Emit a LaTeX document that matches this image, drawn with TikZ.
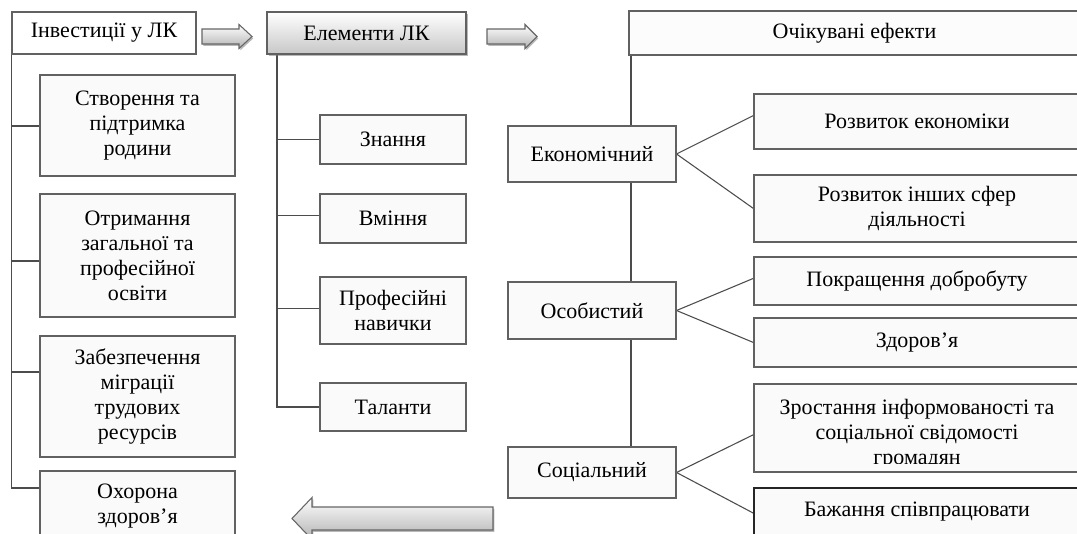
\documentclass[tikz,border=0pt]{standalone}
\usepackage{fontspec}
\setmainfont{Liberation Serif}
\usetikzlibrary{shadows,backgrounds}
\newcommand{\boxat}[7]{\node[#1, minimum width={(#5-#3)*0.75pt}, minimum height={(#6-#4)*0.75pt}] (#2) at ({(#3+#5)/2},{(#4+#6)/2}) {#7};}
\begin{document}
\begin{tikzpicture}[x=0.75pt,y=-0.75pt,
  txt/.style={font=\fontsize{16.5}{18.75}\selectfont, align=center, inner sep=0pt},
  box/.style={txt, draw=black!62, fill=black!2, line width=0.8pt},
  wbox/.style={box, fill=white},
  gbox/.style={box, top color=white, bottom color=black!22,
     drop shadow={shadow xshift=1.2pt, shadow yshift=-1.6pt, opacity=.5, fill=black!55}},
  blockarrow/.style={draw=black!60, line width=0.8pt, top color=white, bottom color=black!30,
     drop shadow={shadow xshift=1pt, shadow yshift=-1.4pt, opacity=.5, fill=black!55}},
  conn/.style={draw=black!70, line width=0.8pt}
]
\begin{scope}[on background layer]
  \fill[white] (0,0) rectangle (1077,533);
\end{scope}
\useasboundingbox (0,0) rectangle (1077,533);

% top row
\boxat{wbox}{inv}{12}{12}{196}{54}{Інвестиції у ЛК}
\boxat{gbox}{el}{267}{12}{466}{54}{Елементи ЛК}
\boxat{box, fill=black!1}{ef}{629}{11}{1080}{55}{Очікувані ефекти}

% block arrows
\path[blockarrow] (202,29) -- (239,29) -- (239,24.5) -- (252,36.5) -- (239,48.5) -- (239,44) -- (202,44) -- cycle;
\path[blockarrow] (487,29) -- (525,29) -- (525,24.5) -- (537,36.5) -- (525,48.5) -- (525,44) -- (487,44) -- cycle;
\path[blockarrow] (493,507) -- (312,507) -- (312,497.5) -- (292,518.5) -- (312,539.5) -- (312,530) -- (493,530) -- cycle;

% left column
\boxat{box}{sp}{40}{75}{235}{176}{Створення та\\підтримка\\родини}
\boxat{box}{ot}{40}{194}{235}{317}{Отримання\\загальної та\\професійної\\освіти}
\boxat{box}{zb}{40}{336}{235}{457}{Забезпечення\\міграції\\трудових\\ресурсів}
\boxat{box}{oh}{40}{471}{235}{545}{}
\node[txt] (oh-t) at (137.5,506) {Охорона\\здоров’я};
\coordinate (b-sp) at (40,126);
\coordinate (b-ot) at (40,261);
\coordinate (b-zb) at (40,372);
\coordinate (b-oh) at (40,488);

% middle column
\boxat{box}{zn}{320}{115}{466}{164}{Знання}
\boxat{box}{vm}{320}{194}{466}{243}{Вміння}
\boxat{box}{pr}{320}{277}{466}{344}{Професійні\\навички}
\boxat{box}{tl}{320}{383}{466}{431}{Таланти}
\coordinate (mtop) at (277,54);

% right column
\boxat{box}{ek}{508}{126}{676}{182}{Економічний}
\boxat{box}{os}{508}{282}{676}{339}{Особистий}
\boxat{box}{so}{508}{447}{676}{498}{Соціальний}
\coordinate (rtop) at (631,55);

\boxat{box}{re}{754}{94}{1080}{149}{Розвиток економіки}
\boxat{box}{ri}{754}{175}{1080}{242}{Розвиток інших сфер\\діяльності}
\boxat{box}{pd}{754}{257}{1080}{305}{Покращення добробуту}
\boxat{box}{zd}{754}{318}{1080}{367}{Здоров’я}
\boxat{box}{zr}{754}{384}{1080}{472}{}
\begin{scope}
  \clip (754,384) rectangle (1080,463);
  \node[txt] (zr-t) at (917,434) {Зростання інформованості та\\соціальної свідомості\\громадян};
\end{scope}
\boxat{box, draw=black!85}{bz}{754}{488}{1080}{545}{}
\node[txt] (bz-t) at (917,512) {Бажання співпрацювати};

% connectors
\begin{scope}[on background layer]
  \draw[conn] (inv.south west) |- (b-sp);
  \draw[conn] (inv.south west) |- (b-ot);
  \draw[conn] (inv.south west) |- (b-zb);
  \draw[conn] (inv.south west) |- (b-oh);
  \draw[conn] (mtop) |- (zn.west);
  \draw[conn] (mtop) |- ([yshift=2.5pt]vm.west);
  \draw[conn] (mtop) |- ([yshift=1.5pt]pr.west);
  \draw[conn] (mtop) |- (tl.west);
  \draw[conn] (rtop) -- (rtop |- so.north);
  \draw[conn] (ek.east) -- ([yshift=4.5pt]re.west);
  \draw[conn] (ek.east) -- (ri.west);
  \draw[conn] (os.east) -- ([yshift=2pt]pd.west);
  \draw[conn] (os.east) -- (zd.west);
  \draw[conn] (so.east) -- ([yshift=-5pt]zr.west);
  \draw[conn] (so.east) -- ([yshift=2.5pt]bz.west);
\end{scope}
\end{tikzpicture}
\end{document}
